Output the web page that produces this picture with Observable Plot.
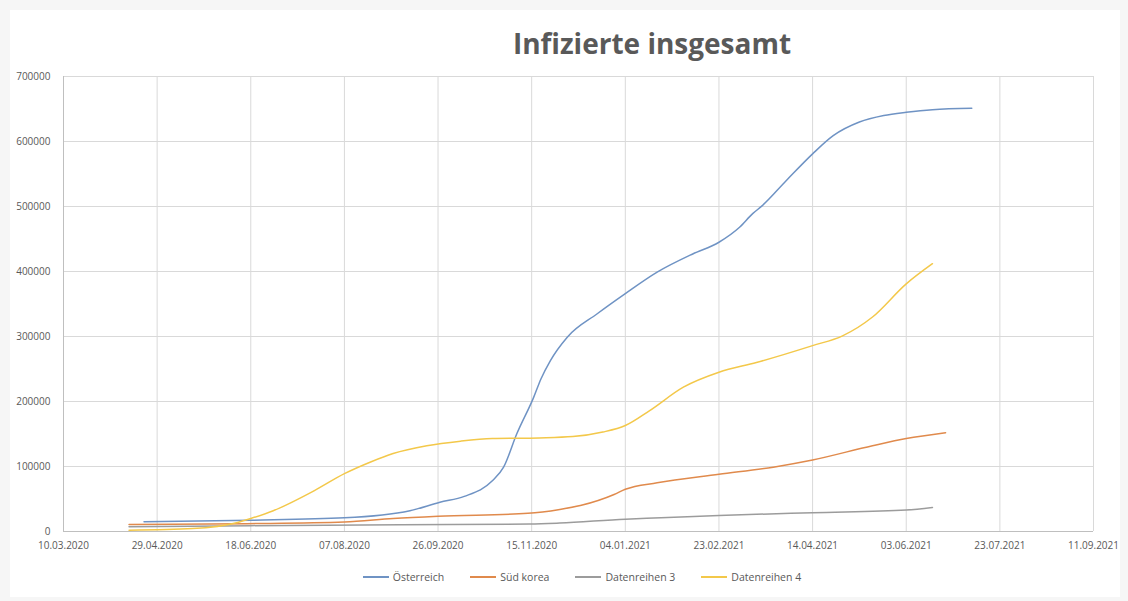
<!DOCTYPE html>
<html>
<head>
<meta charset="utf-8">
<script src="https://cdn.jsdelivr.net/npm/d3@7"></script>
<script src="https://cdn.jsdelivr.net/npm/@observablehq/plot@0.6"></script>
<style>
  html, body { margin: 0; padding: 0; background: #f6f6f6; }
  #page { position: relative; width: 1128px; height: 601px; overflow: hidden; font-family: "Open Sans", sans-serif; }
  #panel { position: absolute; left: 10px; top: 10px; width: 1110px; height: 587px; background: #fff; }
  #title { position: absolute; left: 0; width: 1128px; top: 24px; text-align: center; padding-left: 176px; box-sizing: border-box;
           font-family: "Open Sans", sans-serif; font-weight: 700; font-size: 28px; line-height: 38px; color: #595959; }
  #chart { position: absolute; left: 0; top: 0; }
  #legend { position: absolute; left: 0; top: 570px; width: 1128px; display: flex; justify-content: center; padding-left: 36px; box-sizing: border-box;
            font-size: 10.5px; color: #595959; gap: 26px; }
  .item { display: flex; align-items: center; gap: 4px; }
  .swatch { display: inline-block; width: 26px; height: 2px; }
</style>
</head>
<body>
<div id="page">
  <div id="panel"></div>
  <div id="chart"></div>
  <div id="title">Infizierte insgesamt</div>
  <div id="legend"></div>
</div>
<script>
// ---- Data ----
const seriesNames = ["Österreich", "Süd korea", "Datenreihen 3", "Datenreihen 4"];
const seriesColors = ["#6f93c4", "#e08a4c", "#9c9c9c", "#f3c84a"];

const oeDates = ["2020-04-22","2020-06-18","2020-08-07","2020-09-11","2020-09-27","2020-10-10","2020-10-25","2020-10-31","2020-11-07","2020-11-16","2020-11-20","2020-11-25","2020-12-04","2020-12-20","2021-01-04","2021-01-21","2021-02-09","2021-02-23","2021-03-06","2021-03-13","2021-03-18","2021-03-31","2021-04-14","2021-04-25","2021-05-09","2021-05-22","2021-06-03","2021-06-17","2021-07-08"];
const oeValues = [15000,17300,21000,32000,45000,54000,78000,99000,150000,206000,235000,263000,299000,335000,366000,399000,427000,445000,468000,489000,501000,540000,581000,609000,630000,640000,645000,649000,651000];

const krDates = ["2020-04-14","2020-06-16","2020-08-07","2020-09-02","2020-09-26","2020-11-13","2020-11-30","2020-12-11","2020-12-29","2021-01-04","2021-01-21","2021-02-23","2021-03-24","2021-04-14","2021-05-16","2021-06-03","2021-06-24"];
const krValues = [10600,12100,14500,20000,23500,28000,34000,40000,57000,65000,75000,88000,99000,110000,132000,143000,152000];

const d3Dates = ["2020-04-14","2020-06-18","2020-09-06","2020-11-14","2020-11-30","2021-01-04","2021-01-23","2021-02-23","2021-04-14","2021-06-03","2021-06-17"];
const d3Values = [7500,9000,10300,11500,13000,19000,21000,24600,29000,33000,37000];

const d4Dates = ["2020-04-14","2020-05-18","2020-06-11","2020-06-18","2020-06-30","2020-07-22","2020-08-07","2020-08-21","2020-09-02","2020-09-20","2020-10-08","2020-10-25","2020-11-19","2020-12-07","2020-12-23","2021-01-04","2021-01-17","2021-02-04","2021-02-23","2021-03-15","2021-04-14","2021-04-30","2021-05-16","2021-06-03","2021-06-17"];
const d4Values = [2000,4600,14000,20000,32000,63000,89000,107000,120000,132000,139000,143000,144000,146000,153000,163000,186000,222000,245000,260000,286000,301000,330000,381000,412000];

const xTickLabels = ["10.03.2020","29.04.2020","18.06.2020","07.08.2020","26.09.2020","15.11.2020","04.01.2021","23.02.2021","14.04.2021","03.06.2021","23.07.2021","11.09.2021"];
const yTicks = [0,100000,200000,300000,400000,500000,600000,700000];

// ---- Build table ----
const parseDate = d3.utcParse("%Y-%m-%d");
const parseTick = d3.utcParse("%d.%m.%Y");
const xTicks = xTickLabels.map(parseTick);
const allDates = [oeDates, krDates, d3Dates, d4Dates];
const allValues = [oeValues, krValues, d3Values, d4Values];
const rows = [];
seriesNames.forEach((name, i) => {
  allDates[i].forEach((d, j) => rows.push({series: name, date: parseDate(d), value: allValues[i][j]}));
});

const fmt = d3.utcFormat("%d.%m.%Y");
const chart = Plot.plot({
  width: 1128,
  height: 561,
  marginTop: 76,
  marginBottom: 30,
  marginLeft: 63,
  marginRight: 35,
  style: { background: "transparent", fontFamily: "Open Sans, sans-serif", fontSize: "10px", color: "#595959" },
  x: { type: "utc", domain: [xTicks[0], xTicks[xTicks.length - 1]] },
  y: { domain: [0, 700000] },
  color: { domain: seriesNames, range: seriesColors },
  marks: [
    Plot.gridX(xTicks, { stroke: "#d9d9d9", strokeOpacity: 1 }),
    Plot.gridY(yTicks, { stroke: "#d9d9d9", strokeOpacity: 1 }),
    Plot.ruleX([xTicks[0]], { stroke: "#bfbfbf" }),
    Plot.ruleY([0], { stroke: "#bfbfbf" }),
    Plot.axisX(xTicks, { tickFormat: fmt, tickSize: 0, tickPadding: 10, label: null, fill: "#595959" }),
    Plot.axisY(yTicks, { tickFormat: d => String(d), tickSize: 0, tickPadding: 13, label: null, fill: "#595959" }),
    Plot.lineY(rows, { x: "date", y: "value", z: "series", stroke: "series", strokeWidth: 1.5, curve: "monotone-x" })
  ]
});
document.getElementById("chart").appendChild(chart);

// ---- Legend ----
const legend = document.getElementById("legend");
seriesNames.forEach((name, i) => {
  const item = document.createElement("div");
  item.className = "item";
  const sw = document.createElement("span");
  sw.className = "swatch";
  sw.style.backgroundColor = seriesColors[i];
  const label = document.createElement("span");
  label.textContent = name;
  item.appendChild(sw);
  item.appendChild(label);
  legend.appendChild(item);
});
</script>
</body>
</html>
